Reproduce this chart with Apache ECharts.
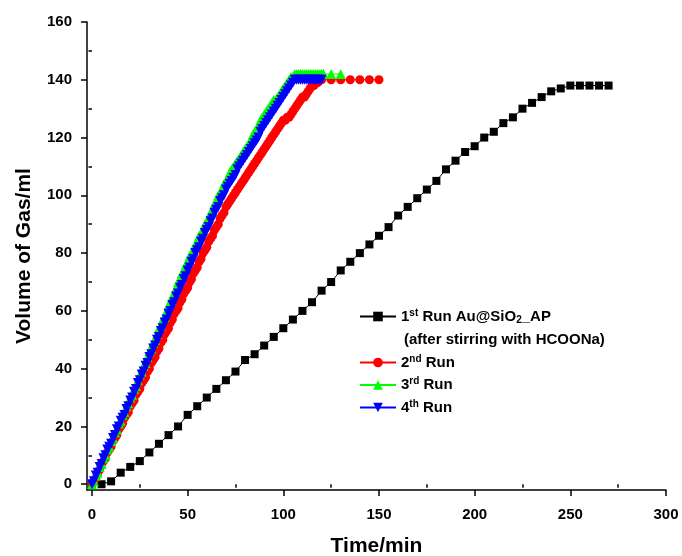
<!DOCTYPE html>
<html>
<head>
<meta charset="utf-8">
<script src="https://cdn.jsdelivr.net/npm/echarts@6/dist/echarts.min.js"></script>
<style>html,body{margin:0;padding:0;background:#fff;}#c{width:682px;height:556px;}</style>
</head>
<body>
<div id="c"></div>
<script>
// ---- data ----
const run1Times = [0,5,10,15,20,25,30,35,40,45,50,55,60,65,70,75,80,85,90,95,100,105,110,115,120,125,130,135,140,145,150,155,160,165,170,175,180,185,190,195,200,205,210,215,220,225,230,235,240,245,250,255,260,265,270];
const run1Vals  = [0,0,1,4,6,8,11,14,17,20,24,27,30,33,36,39,43,45,48,51,54,57,60,63,67,70,74,77,80,83,86,89,93,96,99,102,105,109,112,115,117,120,122,125,127,130,132,134,136,137,138,138,138,138,138];

// dense runs: one reading per minute starting at t = 0
const run2Vals = [0,1,2,4,5,7,8,9,11,12,13,15,16,17,19,20,21,23,24,25,27,28,29,31,32,33,35,36,37,39,40,42,43,44,46,47,49,50,52,53,54,56,57,59,60,61,63,64,66,67,68,70,71,73,74,75,77,78,80,81,82,84,85,86,88,89,90,92,93,94,96,97,98,99,100,101,102,103,104,105,106,107,108,109,110,111,112,113,114,115,116,117,118,119,120,121,122,123,124,125,126,126,127,127,128,129,130,131,132,133,134,134,135,136,137,138,138,139,139,140,140];
const run2TailTimes = [125,130,135,140,145,150];
const run2TailVals  = [140,140,140,140,140,140];

const run3Vals = [0,1,3,4,6,7,9,10,12,13,15,16,18,19,21,22,24,25,27,28,30,31,33,34,36,38,39,41,42,44,46,47,49,50,52,54,55,57,58,60,62,63,65,66,68,70,71,73,74,76,77,79,80,81,83,84,86,87,88,90,91,92,94,95,97,98,100,101,102,104,105,106,108,109,110,111,112,113,114,115,116,117,118,119,121,122,123,124,126,127,128,129,130,131,132,133,133,134,135,136,137,138,139,140,141,141,142,142,142,142,142,142,142,142,142,142,142,142,142,142,142,142];
const run3TailTimes = [125,130];
const run3TailVals  = [142,142];

const run4Vals = [0,1,3,4,6,7,9,10,12,13,14,16,17,19,20,22,23,24,26,27,29,30,32,33,35,36,38,39,41,42,44,45,47,48,50,51,53,54,56,57,59,60,62,63,65,66,68,69,71,72,74,75,77,78,80,81,82,84,85,87,88,89,91,92,94,95,96,98,99,100,102,103,104,105,106,107,109,110,111,112,113,114,115,116,117,118,119,120,122,123,124,125,126,127,128,129,130,131,132,133,134,135,136,137,138,139,140,140,140,140,140,140,140,140,140,140,140,140,140,140,140];

const xMajor = [0,50,100,150,200,250,300];
const xMinor = [25,75,125,175,225,275];
const yMajor = [0,20,40,60,80,100,120,140,160];
const yMinor = [10,30,50,70,90,110,130,150];

// ---- build ----
const pairs = (ts, vs) => vs.map((v, i) => [ts[i], v]);
const dense = (vs) => vs.map((v, i) => [i, v]);
const s1 = pairs(run1Times, run1Vals);
const s2 = dense(run2Vals).concat(pairs(run2TailTimes, run2TailVals));
const s3 = dense(run3Vals).concat(pairs(run3TailTimes, run3TailVals));
const s4 = dense(run4Vals);

const FONT = '"Liberation Sans", Arial, sans-serif';
const chart = echarts.init(document.getElementById('c'), null, {renderer: 'canvas'});

const xBase = {type: 'value', min: -2.6, max: 300, gridIndex: 0, position: 'bottom', splitLine: {show: false}};
const yBase = {type: 'value', min: -2, max: 160, gridIndex: 0, position: 'left', splitLine: {show: false}};
const lineStyleAxis = {color: '#000', width: 1.5};

const richLegend = {
  t: {fontFamily: FONT, fontWeight: 'bold', fontSize: 15, color: '#000', lineHeight: 17},
  sup: {fontFamily: FONT, fontWeight: 'bold', fontSize: 10, color: '#000', verticalAlign: 'top', lineHeight: 17, padding: [0,0,6,0]},
  sub: {fontFamily: FONT, fontWeight: 'bold', fontSize: 10, color: '#000', verticalAlign: 'bottom', lineHeight: 17, padding: [6,0,0,0]}
};
const legendNames = {
  'run1': '{t|1}{sup|st}{t| Run Au@SiO}{sub|2}{t|_AP}',
  'run2': '{t|2}{sup|nd}{t| Run}',
  'run3': '{t|3}{sup|rd}{t| Run}',
  'run4': '{t|4}{sup|th}{t| Run}'
};

chart.setOption({
  animation: false,
  backgroundColor: '#fff',
  grid: {left: 87, right: 16, top: 22, bottom: 66, containLabel: false, outerBoundsMode: 'none'},
  xAxis: [
    Object.assign({}, xBase, {
      name: 'Time/min', nameLocation: 'middle', nameGap: 46,
      nameTextStyle: {fontFamily: FONT, fontWeight: 'bold', fontSize: 21, color: '#000'},
      axisLine: {show: true, onZero: false, lineStyle: lineStyleAxis},
      axisTick: {show: true, inside: false, length: 6, lineStyle: lineStyleAxis, customValues: xMajor},
      axisLabel: {show: true, margin: 17, fontFamily: FONT, fontWeight: 'bold', fontSize: 15, color: '#000', customValues: xMajor}
    }),
    Object.assign({}, xBase, {
      axisLine: {show: false},
      axisTick: {show: true, inside: false, length: 3.5, lineStyle: lineStyleAxis, customValues: xMinor},
      axisLabel: {show: false}
    })
  ],
  yAxis: [
    Object.assign({}, yBase, {
      name: 'Volume of Gas/ml', nameLocation: 'middle', nameGap: 52, nameRotate: 90,
      nameTextStyle: {fontFamily: FONT, fontWeight: 'bold', fontSize: 21, color: '#000'},
      axisLine: {show: true, onZero: false, lineStyle: lineStyleAxis},
      axisTick: {show: true, inside: false, length: 6, lineStyle: lineStyleAxis, customValues: yMajor},
      axisLabel: {show: true, margin: 15, fontFamily: FONT, fontWeight: 'bold', fontSize: 15, color: '#000', customValues: yMajor}
    }),
    Object.assign({}, yBase, {
      axisLine: {show: false},
      axisTick: {show: true, inside: false, length: 3.5, lineStyle: lineStyleAxis, customValues: yMinor},
      axisLabel: {show: false}
    })
  ],
  legend: [
    {
      data: ['run1'], left: 354, top: 303, orient: 'vertical',
      itemWidth: 36, itemHeight: 12, itemGap: 6,
      formatter: n => legendNames[n],
      textStyle: {rich: richLegend}
    },
    {
      data: ['run2', 'run3', 'run4'], left: 354, top: 349, orient: 'vertical',
      itemWidth: 36, itemHeight: 12, itemGap: 6.5,
      formatter: n => legendNames[n],
      textStyle: {rich: richLegend}
    }
  ],
  graphic: [{
    type: 'text', left: 404, top: 332,
    style: {text: '(after stirring with HCOONa)', font: 'bold 15px ' + FONT, fill: '#000'}
  }],
  series: [
    {name: 'run1', type: 'line', data: s1, xAxisIndex: 0, yAxisIndex: 0,
     symbol: 'rect', symbolSize: 8, color: '#000', lineStyle: {color: '#000', width: 1}, itemStyle: {color: '#000'}},
    {name: 'run2', type: 'line', data: s2, xAxisIndex: 0, yAxisIndex: 0,
     symbol: 'circle', symbolSize: 9, color: '#ff0000', lineStyle: {color: '#ff0000', width: 1}, itemStyle: {color: '#ff0000'}},
    {name: 'run3', type: 'line', data: s3, xAxisIndex: 0, yAxisIndex: 0,
     symbol: 'triangle', symbolSize: 10, color: '#00ff00', lineStyle: {color: '#00ff00', width: 1}, itemStyle: {color: '#00ff00'}},
    {name: 'run4', type: 'line', data: s4, xAxisIndex: 0, yAxisIndex: 0,
     symbol: 'path://M0,0 L10,0 L5,9 Z', symbolSize: 10, color: '#0000ff', lineStyle: {color: '#0000ff', width: 1}, itemStyle: {color: '#0000ff'}}
  ]
});
</script>
</body>
</html>
